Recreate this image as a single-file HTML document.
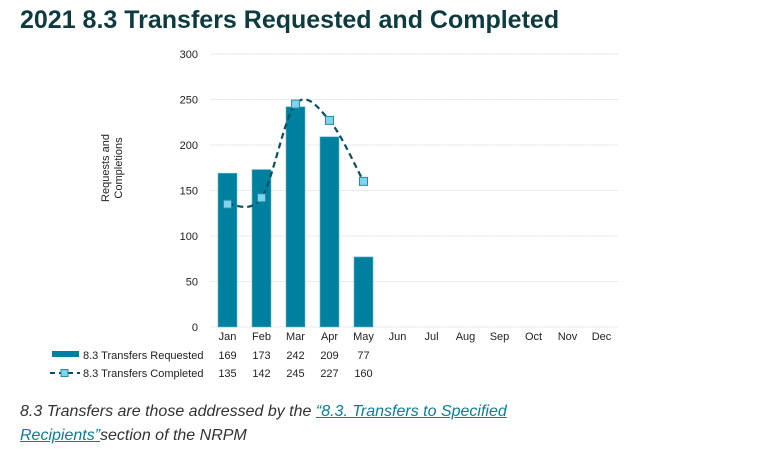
<!DOCTYPE html>
<html><head><meta charset="utf-8"><style>
body{margin:0;width:757px;height:456px;background:#fff;font-family:"Liberation Sans",sans-serif;overflow:hidden;position:relative}
#title{position:absolute;left:20px;top:6px;font-size:25px;font-weight:bold;color:#0d3b40;margin:0;white-space:nowrap}
#cap{position:absolute;left:20px;top:400px;font-size:16px;font-style:italic;color:#333;line-height:24px;width:560px}
#cap a{color:#0a7d99;text-decoration:underline}
svg{position:absolute;left:0;top:0}
</style></head><body>
<h1 id="title">2021 8.3 Transfers Requested and Completed</h1>
<svg id="chart" width="757" height="400"></svg>
<div id="cap">8.3 Transfers are those addressed by the <a href="#">“8.3. Transfers to Specified Recipients”</a>section of the NRPM</div>
<script>
const months=["Jan","Feb","Mar","Apr","May","Jun","Jul","Aug","Sep","Oct","Nov","Dec"];
const requested=[169,173,242,209,77];
const completed=[135,142,245,227,160];
const yTicks=[0,50,100,150,200,250,300];
const NS="http://www.w3.org/2000/svg";
const svg=document.getElementById('chart');
const x0=210.5,bw=34,y0=327,yTop=54,yMax=300;
const xc=i=>x0+bw*(i+0.5);
const y=v=>y0-(y0-yTop)*v/yMax;
function mk(t,a,p){const e=document.createElementNS(NS,t);for(const k in a)e.setAttribute(k,a[k]);(p||svg).appendChild(e);return e;}
yTicks.forEach(v=>{
 const l=mk('line',{x1:x0,x2:x0+bw*12,y1:y(v),y2:y(v),stroke:'#e2e2e2','stroke-dasharray':'2,1'});
 
 
 const t=mk('text',{x:198,y:y(v)+4,'text-anchor':'end','font-size':11,fill:'#222'});t.textContent=v;
 
 
});
const yt=mk('text',{transform:'translate(112,168) rotate(-90)','text-anchor':'middle','font-size':11,fill:'#222'});


mk('tspan',{x:0,dy:-3},yt).textContent='Requests and';
mk('tspan',{x:0,dy:13},yt).textContent='Completions';
months.forEach((m,i)=>{
 const t=mk('text',{x:xc(i),y:340,'text-anchor':'middle','font-size':11,fill:'#222'});t.textContent=m;
 
 
});
requested.forEach((v,i)=>{
 const r=mk('rect',{x:xc(i)-9.5,y:y(v),width:19,height:y0-y(v),fill:'#00809f',stroke:'#5fb8cc','stroke-width':0.6});
 
 
});
// catmull-rom smooth line
const pts=completed.map((v,i)=>[xc(i),y(v)]);
let d='M'+pts[0][0]+','+pts[0][1];
for(let i=0;i<pts.length-1;i++){
 const p0=pts[Math.max(0,i-1)],p1=pts[i],p2=pts[i+1],p3=pts[Math.min(pts.length-1,i+2)];
 const c1=[p1[0]+(p2[0]-p0[0])/6,p1[1]+(p2[1]-p0[1])/6],c2=[p2[0]-(p3[0]-p1[0])/6,p2[1]-(p3[1]-p1[1])/6];
 d+=' C'+c1+' '+c2+' '+p2;
}
const ln=mk('path',{d:d,fill:'none',stroke:'#0b4f5e','stroke-width':2.2,'stroke-dasharray':'6,4'});


pts.forEach((p,i)=>{
 const r=mk('rect',{x:p[0]-4,y:p[1]-4,width:8,height:8,fill:'#7fd4ec',stroke:'#2a8aa6','stroke-width':1});
 
 
});
// data table legend
const s1=mk('rect',{x:52,y:351,width:27,height:6,fill:'#00809f'});


const l1=mk('text',{x:83,y:359,'font-size':11,fill:'#222'});l1.textContent='8.3 Transfers Requested';


const s2=mk('line',{x1:50,x2:80,y1:373,y2:373,stroke:'#0b4f5e','stroke-width':2,'stroke-dasharray':'5,4'});


const s3=mk('rect',{x:61,y:369.5,width:7,height:7,fill:'#7fd4ec',stroke:'#2a8aa6'});


const l2=mk('text',{x:83,y:377,'font-size':11,fill:'#222'});l2.textContent='8.3 Transfers Completed';


[[requested,359,'requested'],[completed,377,'completed']].forEach(([arr,yy,n])=>{
 arr.forEach((v,i)=>{
  const t=mk('text',{x:xc(i),y:yy,'text-anchor':'middle','font-size':11,fill:'#222'});t.textContent=v;
  
  
 });
});
</script>
</body></html>
